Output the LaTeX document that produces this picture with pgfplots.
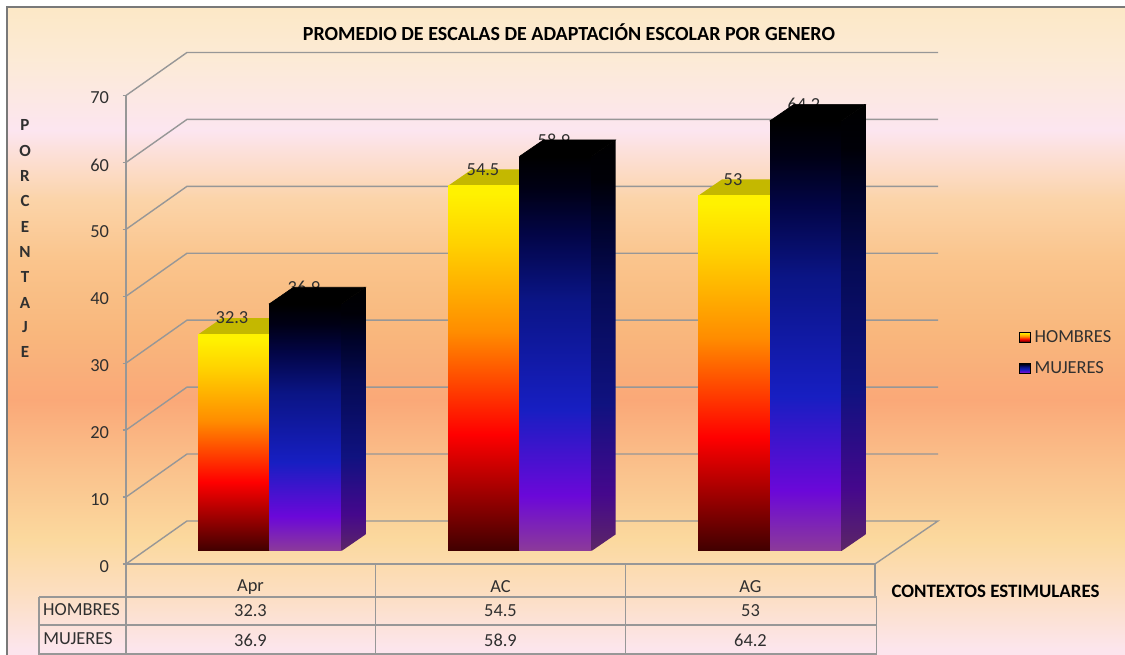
\documentclass[border=0pt]{standalone}
\usepackage{fontspec}
\setmainfont{Carlito}
\usepackage{pgfplots}
\pgfplotsset{compat=1.18}

\definecolor{rejilla}{HTML}{979797}
\definecolor{texto}{HTML}{303030}
\newcommand{\fs}{\fontsize{18.4}{22}\selectfont}

% path bbox maps to 25bp..75bp of the shading
\pgfdeclareverticalshading{fondo}{100bp}{
  rgb(0bp)=(0.99,0.90,0.93);
  rgb(25.4bp)=(0.99,0.90,0.93);
  rgb(30bp)=(0.99,0.87,0.75);
  rgb(33.9bp)=(0.985,0.85,0.62);
  rgb(39.3bp)=(0.98,0.76,0.55);
  rgb(44.7bp)=(0.98,0.66,0.47);
  rgb(50.1bp)=(0.975,0.72,0.49);
  rgb(55.5bp)=(0.98,0.77,0.55);
  rgb(60.1bp)=(0.985,0.83,0.66);
  rgb(65.5bp)=(0.99,0.90,0.94);
  rgb(70.9bp)=(0.99,0.92,0.84);
  rgb(74.8bp)=(0.99,0.91,0.78);
  rgb(100bp)=(0.99,0.91,0.78)}
\pgfdeclareverticalshading{hombres}{100bp}{
  rgb(0bp)=(0.25,0,0);
  rgb(25bp)=(0.25,0,0);
  rgb(41bp)=(1,0,0);
  rgb(55bp)=(1,0.55,0);
  rgb(67bp)=(1,0.82,0);
  rgb(74bp)=(1,0.95,0);
  rgb(75bp)=(1,0.95,0);
  rgb(100bp)=(1,0.95,0)}
\pgfdeclareverticalshading{mujeres}{100bp}{
  rgb(0bp)=(0.55,0.23,0.60);
  rgb(25bp)=(0.55,0.23,0.60);
  rgb(32bp)=(0.42,0.03,0.85);
  rgb(43bp)=(0.09,0.12,0.76);
  rgb(57bp)=(0.04,0.08,0.52);
  rgb(65bp)=(0.01,0.02,0.28);
  rgb(71bp)=(0,0,0.08);
  rgb(75bp)=(0,0,0);
  rgb(100bp)=(0,0,0)}
\pgfdeclareverticalshading{lado}{100bp}{
  rgb(0bp)=(0.36,0.15,0.40);
  rgb(25bp)=(0.36,0.15,0.40);
  rgb(32bp)=(0.27,0.03,0.55);
  rgb(43bp)=(0.06,0.07,0.50);
  rgb(57bp)=(0.02,0.04,0.33);
  rgb(65bp)=(0,0.01,0.16);
  rgb(70bp)=(0,0,0.03);
  rgb(75bp)=(0,0,0);
  rgb(100bp)=(0,0,0)}

\begin{document}
\begin{tikzpicture}
\useasboundingbox (0,0) rectangle (1125pt,655pt);

% page: coordinates are the pixels of the picture
\begin{axis}[
    at={(0pt,0pt)}, anchor=south west,
    scale only axis, width=1125pt, height=655pt,
    xmin=0, xmax=1125, ymin=0, ymax=655, y dir=reverse,
    axis lines=none, clip=false,
    legend style={at={(axis cs:1019,329.5)}, anchor=north west, draw=none, fill=none,
      font=\fs, text=texto, row sep=15.5pt, inner sep=0pt,
      nodes={inner xsep=4.5pt, inner ysep=1pt}},
    legend cell align=left,
]
\path[shade, shading=fondo] (axis cs:7,7) rectangle (axis cs:1125,655);
\addplot[rejilla!80!black, line width=1.8pt, forget plot] coordinates {(7,655) (7,7) (1125,7)};

% data table under the plot
\addplot[rejilla, line width=1.4pt, forget plot] coordinates {(126,564) (126,654)};
\addplot[rejilla, line width=1.4pt, forget plot] coordinates {(375.5,564) (375.5,654)};
\addplot[rejilla, line width=1.4pt, forget plot] coordinates {(625.5,564) (625.5,654)};
\addplot[rejilla, line width=1.4pt, forget plot] coordinates {(875,564) (875,597)};
\addplot[rejilla, line width=1.4pt, forget plot] coordinates {(876.5,597) (876.5,654)};
\addplot[rejilla, line width=1.4pt, forget plot] coordinates {(39,597) (39,654) (876.5,654)};
\addplot[rejilla, line width=1.4pt, forget plot] coordinates {(39,597) (876.5,597)};
\addplot[rejilla, line width=1.4pt, forget plot] coordinates {(39,625) (876.5,625)};

\addlegendimage{legend image code/.code={\path[shade, shading=hombres] (0pt,-5pt) rectangle (10.5pt,5pt);}}
\addlegendentry{HOMBRES}
\addlegendimage{legend image code/.code={\path[shade, shading=mujeres] (0pt,-5pt) rectangle (10.5pt,5pt);}}
\addlegendentry{MUJERES}

\node[font=\fontsize{20}{24}\selectfont\bfseries, text=black] at (axis cs:569,32) {PROMEDIO DE ESCALAS DE ADAPTACIÓN ESCOLAR POR GENERO};
\node[font=\fontsize{18.9}{22}\selectfont\bfseries, text=black] at (axis cs:995.5,591.5) {CONTEXTOS ESTIMULARES};

\node[font=\fontsize{17}{20}\selectfont\bfseries, text=texto] at (axis cs:25,125) {P};
\node[font=\fontsize{17}{20}\selectfont\bfseries, text=texto] at (axis cs:25,151) {O};
\node[font=\fontsize{17}{20}\selectfont\bfseries, text=texto] at (axis cs:25,176) {R};
\node[font=\fontsize{17}{20}\selectfont\bfseries, text=texto] at (axis cs:25,201) {C};
\node[font=\fontsize{17}{20}\selectfont\bfseries, text=texto] at (axis cs:25,227) {E};
\node[font=\fontsize{17}{20}\selectfont\bfseries, text=texto] at (axis cs:25,252) {N};
\node[font=\fontsize{17}{20}\selectfont\bfseries, text=texto] at (axis cs:25,277) {T};
\node[font=\fontsize{17}{20}\selectfont\bfseries, text=texto] at (axis cs:25,303) {A};
\node[font=\fontsize{17}{20}\selectfont\bfseries, text=texto] at (axis cs:25,327) {J};
\node[font=\fontsize{17}{20}\selectfont\bfseries, text=texto] at (axis cs:25,352) {E};

\node[font=\fs, text=texto] at (axis cs:250.5,587) {Apr};
\node[font=\fs, text=texto] at (axis cs:500.5,587) {AC};
\node[font=\fs, text=texto] at (axis cs:750.5,587) {AG};
\node[font=\fs, text=texto] at (axis cs:81.5,609.5) {HOMBRES};
\node[font=\fs, text=texto] at (axis cs:78,638.5) {MUJERES};
\node[font=\fs, text=texto] at (axis cs:250.5,611) {32.3};
\node[font=\fs, text=texto] at (axis cs:500.5,611) {54.5};
\node[font=\fs, text=texto] at (axis cs:750.5,611) {53};
\node[font=\fs, text=texto] at (axis cs:250.5,640) {36.9};
\node[font=\fs, text=texto] at (axis cs:500.5,640) {58.9};
\node[font=\fs, text=texto] at (axis cs:750.5,640) {64.2};
\end{axis}

% walls and value axis: 6.69 px per unit, zero at pixel row 564
\begin{axis}[
    at={(126pt,91pt)}, anchor=south west,
    scale only axis, width=749pt, height=468.5pt,
    xmin=126, xmax=875, ymin=0, ymax=70,
    axis x line*=bottom, axis y line*=left,
    axis line style={rejilla, line width=1.4pt, -},
    xtick=\empty,
    ytick={0,10,20,30,40,50,60,70},
    tick style={rejilla, line width=1.4pt},
    major tick length=3.5pt, tick align=outside,
    yticklabel style={font=\fs, text=texto, xshift=-10pt, yshift=-2.5pt,
      /pgf/number format/assume math mode=true},
    clip=false,
]
\addplot[rejilla, line width=1.4pt] coordinates {(126,0) (187,6.43) (938,6.43) (875,0)};
\addplot[rejilla, line width=1.4pt] coordinates {(126,10) (187,16.43) (938,16.43)};
\addplot[rejilla, line width=1.4pt] coordinates {(126,20) (187,26.43) (938,26.43)};
\addplot[rejilla, line width=1.4pt] coordinates {(126,30) (187,36.43) (938,36.43)};
\addplot[rejilla, line width=1.4pt] coordinates {(126,40) (187,46.43) (938,46.43)};
\addplot[rejilla, line width=1.4pt] coordinates {(126,50) (187,56.43) (938,56.43)};
\addplot[rejilla, line width=1.4pt] coordinates {(126,60) (187,66.43) (938,66.43)};
\addplot[rejilla, line width=1.4pt] coordinates {(126,70) (187,76.43) (938,76.43)};
\end{axis}

% bars: 6.7 px per unit, floor of the bars at pixel row 551
\begin{axis}[
    at={(126pt,104pt)}, anchor=south west,
    scale only axis, width=749pt, height=469pt,
    xmin=126, xmax=875, ymin=0, ymax=70,
    hide axis, clip=false,
]
% Apr
\addplot[fill={rgb,255:red,196;green,184;blue,0}, draw=none] coordinates {(198,32.3) (222,34.76) (293.5,34.76) (269.5,32.3)} --cycle;
\addplot[ybar, bar width=71.5pt, draw=none, shade, shading=hombres] coordinates {(233.75,32.3)};
\node[font=\fs, text=texto] at (axis cs:232,34.9) {32.3};
\node[font=\fs, text=texto] at (axis cs:304,39.3) {36.9};
\addplot[ybar, bar width=72pt, draw=none, shade, shading=mujeres] coordinates {(305.5,36.9)};
\addplot[shade, shading=lado, draw=none] coordinates {(341.5,0) (365.5,2.46) (365.5,39.36) (341.5,36.9)} --cycle;
\addplot[fill=black, draw=black, line width=0.6pt] coordinates {(269.5,36.9) (293.5,39.36) (365.5,39.36) (341.5,36.9)} --cycle;
% AC
\addplot[fill={rgb,255:red,196;green,184;blue,0}, draw=none] coordinates {(448,54.5) (472,56.96) (543.5,56.96) (519.5,54.5)} --cycle;
\addplot[ybar, bar width=71.5pt, draw=none, shade, shading=hombres] coordinates {(483.75,54.5)};
\node[font=\fs, text=texto] at (axis cs:483,56.9) {54.5};
\node[font=\fs, text=texto] at (axis cs:554,61.3) {58.9};
\addplot[ybar, bar width=72pt, draw=none, shade, shading=mujeres] coordinates {(555.5,58.9)};
\addplot[shade, shading=lado, draw=none] coordinates {(591.5,0) (615.5,2.46) (615.5,61.36) (591.5,58.9)} --cycle;
\addplot[fill=black, draw=black, line width=0.6pt] coordinates {(519.5,58.9) (543.5,61.36) (615.5,61.36) (591.5,58.9)} --cycle;
% AG
\addplot[fill={rgb,255:red,196;green,184;blue,0}, draw=none] coordinates {(698,53) (722,55.46) (794,55.46) (770,53)} --cycle;
\addplot[ybar, bar width=72pt, draw=none, shade, shading=hombres] coordinates {(734,53)};
\node[font=\fs, text=texto] at (axis cs:733,55.4) {53};
\node[font=\fs, text=texto] at (axis cs:804,66.6) {64.2};
\addplot[ybar, bar width=71.5pt, draw=none, shade, shading=mujeres] coordinates {(805.75,64.2)};
\addplot[shade, shading=lado, draw=none] coordinates {(841.5,0) (865.5,2.46) (865.5,66.66) (841.5,64.2)} --cycle;
\addplot[fill=black, draw=black, line width=0.6pt] coordinates {(770,64.2) (794,66.66) (865.5,66.66) (841.5,64.2)} --cycle;
\end{axis}
\end{tikzpicture}
\end{document}
